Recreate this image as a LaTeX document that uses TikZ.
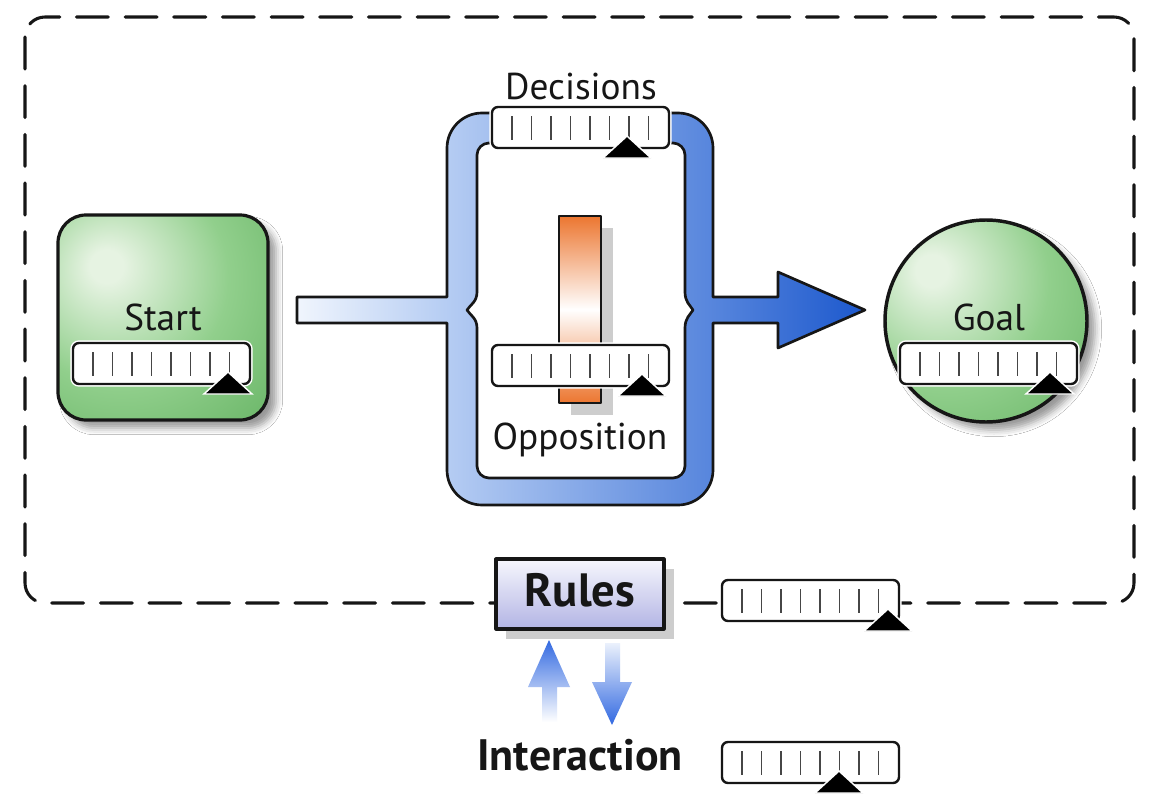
\documentclass[tikz,border=0pt]{standalone}
\usepackage{fontspec}
\setmainfont{PT Sans}
\usetikzlibrary{shadows.blur}
\definecolor{bf1}{RGB}{240,245,253}
\definecolor{bf2}{RGB}{182,205,243}
\definecolor{bf3}{RGB}{85,132,220}
\definecolor{bf4}{RGB}{28,88,205}
\definecolor{gHi}{RGB}{230,243,226}
\definecolor{gMid}{RGB}{145,207,140}
\definecolor{gDark}{RGB}{100,178,98}
\definecolor{orng}{RGB}{236,118,48}
\definecolor{rulesTop}{RGB}{247,247,253}
\definecolor{rulesBot}{RGB}{178,180,228}
\definecolor{arrowBlue}{RGB}{50,105,225}
\definecolor{arrowPale}{RGB}{235,241,252}
\definecolor{tickgray}{RGB}{70,70,70}
\definecolor{shadowgray}{RGB}{205,205,205}
\definecolor{linec}{RGB}{22,22,22}
\pgfdeclarehorizontalshading{blueflow}{100bp}{color(0bp)=(bf1); color(25bp)=(bf1); color(38bp)=(bf2); color(62bp)=(bf3); color(75bp)=(bf4); color(100bp)=(bf4)}
\pgfdeclareradialshading{greenglow}{\pgfpoint{-14bp}{13bp}}{color(0bp)=(gHi); color(4bp)=(gHi); color(26bp)=(gMid); color(50bp)=(gDark); color(100bp)=(gDark)}
\tikzset{
  lbl/.style={font=\fontsize{28}{32}\selectfont, text=linec, inner sep=0pt, anchor=base},
  boldlbl/.style={font=\bfseries\fontsize{35}{40}\selectfont, text=linec, inner sep=0pt, anchor=base},
  outline/.style={draw=linec, line width=2pt, line join=round},
  sliderhalo/.style={draw=white, line width=4pt, rounded corners=4.5pt},
  sliderbox/.style={draw=linec, fill=white, line width=1.8pt, rounded corners=4.5pt},
  tickmark/.style={draw=tickgray, line width=1.3pt},
  thumb/.style={fill=black, draw=white, line width=1.1pt},
  greenshadow/.style={blur shadow={shadow xshift=6pt, shadow yshift=-6pt, shadow blur radius=5pt, shadow opacity=40}},
  frame/.style={draw=linec, line width=2.3pt, dash pattern=on 24pt off 12.5pt, rounded corners=15pt, line cap=round}
}
\newcommand\sldr[3]{%
  \draw[sliderhalo] (#1,#2) rectangle ++(177,41);
  \draw[sliderbox] (#1,#2) rectangle ++(177,41);
  \foreach \t in {20,39.5,59,78.5,98,117.5,137,156.5} \draw[tickmark] ({#1+\t},{#2+9}) -- ++(0,24);
  \draw[thumb] ({#1+#3},{#2+29}) -- ++(-24,22) -- ++(48,0) -- cycle;
}
\begin{document}
\begin{tikzpicture}[x=0.75pt,y=-0.75pt]
\useasboundingbox (0,0) rectangle (1158,810);
\fill[white] (0,0) rectangle (1158,810);

% dashed frame
\draw[frame] (25,17) rectangle (1134,603);

% start box
\path[greenshadow, shading=greenglow, outline, line width=2.4pt, rounded corners=21pt] (58,215) rectangle (268,420);
\node[lbl] (start) at (163,330) {Start};
\sldr{73}{343}{155}

% goal circle
\path[greenshadow, shading=greenglow, outline, line width=2.6pt] (986,321) circle (101);
\node[lbl] (goal) at (989,330) {Goal};
\sldr{900}{343}{150}

% blue flow shape
\path[shading=blueflow, outline]
 (297,297) -- (447,297) -- (447,148) .. controls (447,128.7) and (462.7,113) .. (482,113)
 -- (678,113) .. controls (697.3,113) and (713,128.7) .. (713,148)
 -- (713,297) -- (778,297) -- (778,272) -- (865,310) -- (778,348) -- (778,323) -- (713,323)
 -- (713,470) .. controls (713,489.3) and (697.3,505) .. (678,505)
 -- (482,505) .. controls (462.7,505) and (447,489.3) .. (447,470)
 -- (447,323) -- (297,323) -- cycle;
\path[fill=white, outline]
 (477,155) -- (477,292) .. controls (477,302) and (470,305) .. (467,310) .. controls (470,315) and (477,318) .. (477,328)
 -- (477,466) .. controls (477,472.6) and (482.4,478) .. (489,478)
 -- (673,478) .. controls (679.6,478) and (685,472.6) .. (685,466)
 -- (685,328) .. controls (685,318) and (690,315) .. (693,310) .. controls (690,305) and (685,302) .. (685,292)
 -- (685,155) .. controls (685,148.4) and (679.6,143) .. (673,143)
 -- (489,143) .. controls (482.4,143) and (477,148.4) .. (477,155) -- cycle;

% decisions
\node[lbl] (decisions) at (581,99) {Decisions};
\sldr{492}{107}{135}

% opposition bar
\fill[shadowgray] (571,228) rectangle (613,415);
\path[top color=orng, bottom color=orng, middle color=white, outline, line width=2.2pt] (559,216) rectangle (601,403);
\sldr{492}{345}{150}
\node[lbl] (opposition) at (580,449) {Opposition};

% rules
\fill[shadowgray] (506,569) rectangle (674,639);
\path[top color=rulesTop, bottom color=rulesBot, outline, line width=2.4pt] (496,559) rectangle (664,629);
\node[boldlbl] (rules) at (580,606) {Rules};
\sldr{722}{580}{166}

% interaction arrows
\path[top color=arrowBlue, bottom color=white] (542,722) -- (542,687) -- (528,687) -- (549,640) -- (570,687) -- (557,687) -- (557,722) -- cycle;
\path[top color=arrowPale, bottom color=arrowBlue] (605,643) -- (605,682) -- (592,682) -- (612,725) -- (632,682) -- (620,682) -- (620,643) -- cycle;
\node[boldlbl, font=\bfseries\fontsize{33}{38}\selectfont] (interaction) at (580,770) {Interaction};
\sldr{722}{742}{117}
\end{tikzpicture}
\end{document}
